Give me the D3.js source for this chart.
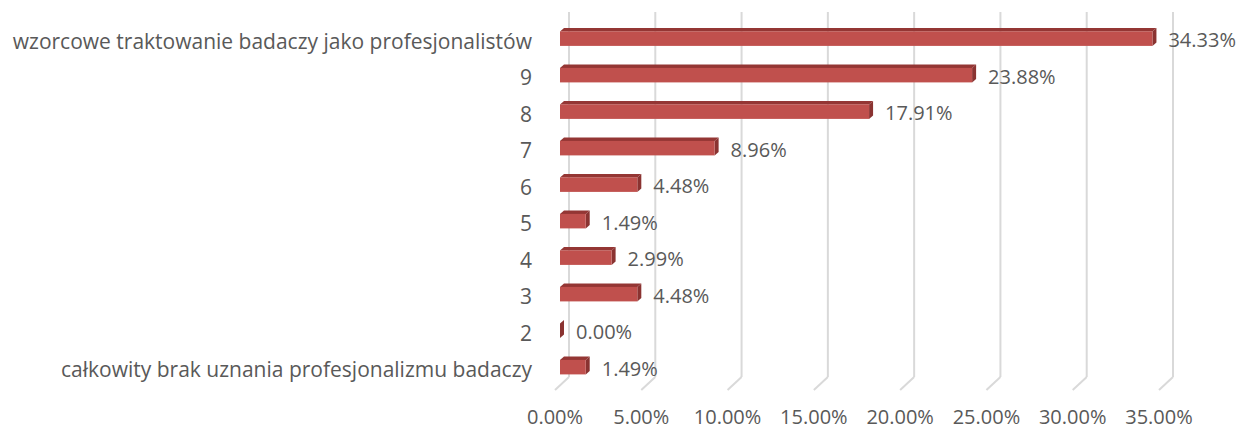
<!DOCTYPE html>
<html>
<head>
<meta charset="utf-8">
<script src="https://cdn.jsdelivr.net/npm/d3@7"></script>
<style>
  body { margin: 0; background: #fff; }
  text { font-family: "Open Sans", "Noto Sans", sans-serif; fill: #595959; }
</style>
</head>
<body>
<script>
(function() {

//chart data, top to bottom
var categories = ["wzorcowe traktowanie badaczy jako profesjonalistów", "9", "8", "7", "6", "5", "4", "3", "2",
                  "całkowity brak uznania profesjonalizmu badaczy"];
var values = [34.33, 23.88, 17.91, 8.96, 4.48, 1.49, 2.99, 4.48, 0.00, 1.49];
var ticks = [0, 5, 10, 15, 20, 25, 30, 35];

var width = 1245, height = 429;

//back wall frame
var wallLeft = 569, wallRight = 1173, wallTop = 12, wallBottom = 377;
//depth offsets (x, y) from the back wall
var floorDx = -14, floorDy = 13;
var barFrontDx = -9, barFrontDy = 8.4;
var barBackDx = -5, barBackDy = 4.9;
var barH = 14.5;

var svg = d3.select("body").append("svg")
    .attr("width", width)
    .attr("height", height);

var x = d3.scaleLinear().domain([0, 35]).range([wallLeft, wallRight]);
var y = d3.scaleBand().domain(categories).range([wallTop, wallBottom]);

//gridlines on the back wall plus floor segments
var grid = svg.append("g");
ticks.forEach(function(t) {
    grid.append("line")
        .attr("x1", x(t)).attr("x2", x(t))
        .attr("y1", wallTop).attr("y2", wallBottom)
        .attr("stroke", "#d9d9d9").attr("stroke-width", 2);
    grid.append("line")
        .attr("x1", x(t)).attr("y1", wallBottom)
        .attr("x2", x(t) + floorDx).attr("y2", wallBottom + floorDy)
        .attr("stroke", "#d9d9d9").attr("stroke-width", 2);
});

//tick labels on the front edge of the floor
svg.append("g").selectAll("text")
    .data(ticks)
    .enter()
    .append("text")
    .attr("x", function(d) { return x(d) + floorDx; })
    .attr("y", 416)
    .attr("text-anchor", "middle")
    .attr("dominant-baseline", "central")
    .style("font-size", "20px")
    .text(function(d) { return d.toFixed(2) + "%"; });

//bars
var rows = categories.map(function(c, i) { return { cat: c, val: values[i] }; });
var bars = svg.append("g").selectAll("g")
    .data(rows)
    .enter()
    .append("g");

function frontTop(d) { return y(d.cat) + y.bandwidth() / 2 + barFrontDy - barH / 2; }
function frontLeft() { return x(0) + barFrontDx; }
function frontRight(d) { return x(d.val) + barFrontDx; }
var ox = barBackDx - barFrontDx, oy = barBackDy - barFrontDy;

//top face
bars.append("path")
    .attr("d", function(d) {
        var l = frontLeft(), r = frontRight(d), t = frontTop(d);
        return "M" + l + "," + t + "L" + (l + ox) + "," + (t + oy) +
               "L" + (r + ox) + "," + (t + oy) + "L" + r + "," + t + "Z";
    })
    .attr("fill", "#943634");

//side face
bars.append("path")
    .attr("d", function(d) {
        var r = frontRight(d), t = frontTop(d);
        return "M" + r + "," + t + "L" + (r + ox) + "," + (t + oy) +
               "L" + (r + ox) + "," + (t + oy + barH) + "L" + r + "," + (t + barH) + "Z";
    })
    .attr("fill", "#8a3331");

//front face
bars.append("rect")
    .attr("x", frontLeft)
    .attr("y", frontTop)
    .attr("width", function(d) { return frontRight(d) - frontLeft(); })
    .attr("height", barH)
    .attr("fill", "#c0504d");

//value labels
bars.append("text")
    .attr("x", function(d) { return frontRight(d) + 16; })
    .attr("y", function(d) { return frontTop(d) + barH / 2 + 1; })
    .attr("dominant-baseline", "central")
    .style("font-size", "20px")
    .text(function(d) { return d.val.toFixed(2) + "%"; });

//category labels
svg.append("g").selectAll("text")
    .data(rows)
    .enter()
    .append("text")
    .attr("x", 532)
    .attr("y", function(d) { return frontTop(d) + barH / 2 + 2; })
    .attr("text-anchor", "end")
    .attr("dominant-baseline", "central")
    .style("font-size", "21px")
    .text(function(d) { return d.cat; });

})();
</script>
</body>
</html>
